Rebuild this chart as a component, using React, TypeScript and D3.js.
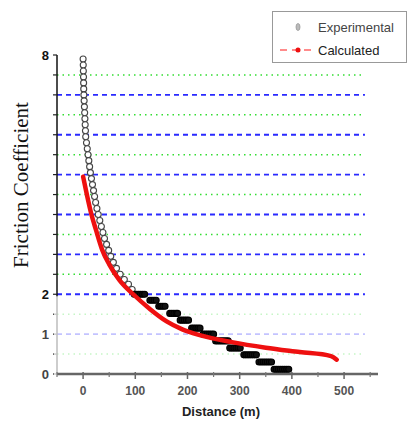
import React from "react";
import * as d3 from "d3";

// Measured friction coefficient along the sliding distance
const expDistance = [
  0, 0.3, 0.5, 0.8, 1, 1.2, 1.5, 2, 2.5, 3, 3.5, 4, 4.5, 5, 6.5, 8, 9.5, 11, 12.5, 14,
  16, 18, 20, 22, 24, 26.5, 29, 32, 35, 38, 41, 45, 49, 53, 58, 64, 71, 79, 87, 94,
  98, 102, 106, 110, 114, 118,
  128, 132, 136, 140,
  145, 149, 153, 157,
  166, 170, 174, 178, 181,
  186, 190, 194, 198, 202,
  208, 212, 216, 220, 224,
  230, 234, 238, 242, 246, 250,
  254, 258, 262, 266, 270, 274, 278,
  281, 285, 289, 293, 297, 301,
  308, 312, 316, 320, 324, 328, 332,
  337, 341, 345, 349, 353, 357, 361,
  366, 370, 374, 378, 382, 386, 390, 394,
];
const expFriction = [
  7.9, 7.75, 7.6, 7.45, 7.3, 7.15, 7.0, 6.85, 6.7, 6.55, 6.4, 6.25, 6.1, 5.95, 5.8, 5.65, 5.5, 5.35, 5.2, 5.05,
  4.9, 4.75, 4.6, 4.45, 4.3, 4.15, 4.0, 3.85, 3.7, 3.55, 3.4, 3.25, 3.1, 2.95, 2.8, 2.65, 2.5, 2.37, 2.25, 2.12,
  2.0, 2.0, 2.0, 2.0, 2.0, 2.0,
  1.85, 1.85, 1.85, 1.85,
  1.7, 1.7, 1.7, 1.7,
  1.52, 1.52, 1.52, 1.52, 1.52,
  1.35, 1.35, 1.35, 1.35, 1.35,
  1.15, 1.15, 1.15, 1.15, 1.15,
  1.0, 1.0, 1.0, 1.0, 1.0, 1.0,
  0.83, 0.83, 0.83, 0.83, 0.83, 0.83, 0.83,
  0.65, 0.65, 0.65, 0.65, 0.65, 0.65,
  0.48, 0.48, 0.48, 0.48, 0.48, 0.48, 0.48,
  0.3, 0.3, 0.3, 0.3, 0.3, 0.3, 0.3,
  0.12, 0.12, 0.12, 0.12, 0.12, 0.12, 0.12, 0.12,
];

// Model prediction
const calcDistance = [0, 8, 15, 25, 37, 50, 70, 96, 129, 160, 190, 225, 285, 350, 415, 475, 486];
const calcFriction = [4.95, 4.45, 4.05, 3.6, 3.1, 2.75, 2.35, 2.0, 1.62, 1.32, 1.12, 0.97, 0.8, 0.66, 0.55, 0.45, 0.36];

const xTicks = [0, 100, 200, 300, 400, 500];
const xMinorTicks = [-50, 50, 150, 250, 350, 450, 550];
const yLabelTicks = [0, 1, 2, 8];
const yTicks = [0, 0.5, 1, 1.5, 2, 2.5, 3, 3.5, 4, 4.5, 5, 5.5, 6, 6.5, 7, 7.5, 8];
const majorGrid = [1, 2, 3, 4, 5, 6, 7];
const minorGrid = [0.5, 1.5, 2.5, 3.5, 4.5, 5.5, 6.5, 7.5];

const W = 408;
const H = 424;

export default function App() {
  const x = d3.scaleLinear().domain([-50, 565]).range([57, 378]);
  const y = d3.scaleLinear().domain([0, 8]).range([374, 55]);
  const gridEnd = x(540);

  const calcPts: [number, number][] = calcDistance.map((d, i) => [d, calcFriction[i]]);
  const line = d3
    .line<[number, number]>()
    .x((p) => x(p[0]))
    .y((p) => y(p[1]))
    .curve(d3.curveMonotoneX);

  // points sharing a friction level with a neighbour pile up into dark bars
  const dense = expFriction.map(
    (f, i) => expFriction[i - 1] === f || expFriction[i + 1] === f
  );

  const sans = "'Liberation Sans', Arial, sans-serif";

  return (
    <svg
      width={W}
      height={H}
      viewBox={`0 0 ${W} ${H}`}
      style={{ position: "absolute", left: 0, top: 0, background: "#fff" }}
    >
      {/* grid */}
      {minorGrid.map((v) => (
        <line
          key={"g" + v}
          x1={x(-50)}
          x2={gridEnd}
          y1={y(v)}
          y2={y(v)}
          stroke="#33dd33"
          strokeWidth={1.5}
          strokeDasharray="1.5 4"
        />
      ))}
      {majorGrid.map((v) => (
        <line
          key={"b" + v}
          x1={x(-50)}
          x2={gridEnd}
          y1={y(v)}
          y2={y(v)}
          stroke="#2a2aff"
          strokeWidth={1.8}
          strokeDasharray="5 4"
        />
      ))}

      {/* y axis */}
      <line x1={x(-50)} x2={x(-50)} y1={y(8)} y2={y(0)} stroke="#111" strokeWidth={1.5} />
      {yTicks.map((v) => (
        <line key={"yt" + v} x1={x(-50) - 4} x2={x(-50)} y1={y(v)} y2={y(v)} stroke="#222" strokeWidth={1.2} />
      ))}

      {/* washed-out lower band */}
      <rect x={x(-50) - 3} y={y(1.95)} width={380 - x(-50)} height={y(0) + 6 - y(1.95)} fill="#fff" opacity={0.72} />

      {/* x axis */}
      <line x1={x(-50)} x2={x(565)} y1={y(0)} y2={y(0)} stroke="#666" strokeWidth={2.5} />
      {xTicks.map((v) => (
        <line key={"xt" + v} x1={x(v)} x2={x(v)} y1={y(0) - 2} y2={y(0) + 5} stroke="#666" strokeWidth={1.5} />
      ))}
      {xMinorTicks.map((v) => (
        <line key={"xm" + v} x1={x(v)} x2={x(v)} y1={y(0) - 2} y2={y(0) + 3} stroke="#777" strokeWidth={1.2} />
      ))}

      {/* experimental points */}
      {expDistance.map((d, i) => (
        <circle
          key={"e" + i}
          cx={x(d)}
          cy={y(expFriction[i])}
          r={3}
          fill={dense[i] ? "#111" : "#fff"}
          stroke={dense[i] ? "#000" : "#444"}
          strokeWidth={1.1}
        />
      ))}

      {/* calculated curve */}
      <path d={line(calcPts) ?? ""} fill="none" stroke="#ee1010" strokeWidth={4.5} strokeLinecap="round" strokeLinejoin="round" />

      {/* tick labels */}
      {xTicks.map((v) => (
        <text
          key={"xl" + v}
          x={x(v)}
          y={y(0) + 21}
          textAnchor="middle"
          fontFamily={sans}
          fontSize={12}
          fontWeight="bold"
          fill="#555"
        >
          {v}
        </text>
      ))}
      {yLabelTicks.map((v) => (
        <text
          key={"yl" + v}
          x={x(-50) - 8}
          y={y(v) + 4.5}
          textAnchor="end"
          fontFamily={sans}
          fontSize={13}
          fontWeight="bold"
          fill={v < 2 ? "#444" : "#111"}
        >
          {v}
        </text>
      ))}

      {/* axis titles */}
      <text x={221} y={416} textAnchor="middle" fontFamily={sans} fontSize={13} fontWeight="bold" fill="#222">
        Distance (m)
      </text>
      <text
        transform={`translate(28, 185) rotate(-90)`}
        textAnchor="middle"
        fontFamily="'Liberation Serif', 'Times New Roman', serif"
        fontSize={21}
        fill="#111"
      >
        Friction Coefficient
      </text>

      {/* legend */}
      <rect x={272.5} y={11.5} width={134} height={51} fill="#fff" stroke="#999" strokeWidth={1} />
      <ellipse cx={298} cy={27} rx={2} ry={3.5} fill="#bbb" stroke="#999" strokeWidth={0.8} />
      <text x={318} y={32} fontFamily={sans} fontSize={13} fill="#444">
        Experimental
      </text>
      <line x1={280} x2={313} y1={50} y2={50} stroke="#ff6666" strokeWidth={1.5} strokeDasharray="7 5" />
      <circle cx={298} cy={50} r={2.5} fill="#ee1010" />
      <text x={318} y={55} fontFamily={sans} fontSize={13} fill="#222">
        Calculated
      </text>
    </svg>
  );
}
